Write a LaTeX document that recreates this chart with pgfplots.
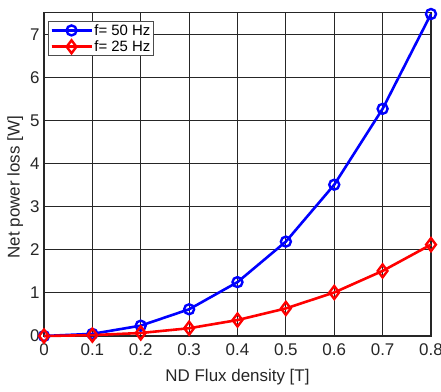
\documentclass[border=0pt]{standalone}
\usepackage{pgfplots}
\pgfplotsset{compat=1.18}
\usepackage{fontspec}
\setmainfont{Liberation Sans}

\definecolor{gridc}{RGB}{38,38,38}

\begin{document}
\begin{tikzpicture}
\path[use as bounding box] (-44bp,-56bp) rectangle (397bp,336bp);
\begin{axis}[
  at={(0,0)}, anchor=south west,
  scale only axis,
  width=387bp, height=323.3bp,
  xmin=0, xmax=0.8, ymin=0, ymax=7.5,
  xtick={0,0.1,...,0.8},
  ytick={0,1,...,7},
  xticklabels={0,0.1,0.2,0.3,0.4,0.5,0.6,0.7,0.8},
  /pgf/number format/assume math mode=true,
  tick label style={font=\fontsize{17}{20}\selectfont, text=gridc},
  xticklabel style={yshift=-4bp},
  yticklabel style={xshift=-1bp},
  label style={font=\fontsize{17}{20}\selectfont, text=gridc},
  xlabel={ND Flux density [T]},
  ylabel={Net power loss [W]},
  xlabel style={at={(axis description cs:0.5,0)}, anchor=base, yshift=-45bp},
  ylabel style={at={(axis description cs:-0.074,0.46)}, anchor=center},
  major tick length=0pt,
  grid=major,
  major grid style={gridc, line width=1.2bp},
  axis line style={gridc, line width=1.2bp},
  clip=false,
  legend style={font=\fontsize{15}{17}\selectfont, draw=gray!60!black, line width=1bp,
    at={(0.011,0.975)}, anchor=north west, inner sep=1.5bp, row sep=1bp,
    nodes={inner sep=1.5bp}},
  legend cell align=left,
  legend image code/.code={
    \draw[#1] (0bp,0bp) -- (14bp,0bp);
    \draw[#1, mark repeat=2, mark phase=2] plot coordinates {(0bp,0bp) (20bp,0bp) (40bp,0bp)};
    \draw[#1] (26bp,0bp) -- (40bp,0bp);
  },
]
\addplot[blue, line width=2.6bp, mark=o, mark size=5bp, mark options={line width=2.4bp}]
  coordinates {(0,0) (0.1,0.05) (0.2,0.24) (0.3,0.62) (0.4,1.25) (0.5,2.19) (0.6,3.51) (0.7,5.27) (0.8,7.47)};
\addlegendentry{f= 50 Hz}
\addplot[red, line width=2.6bp, mark=diamond, mark size=6.5bp, mark options={line width=2.4bp}]
  coordinates {(0,0) (0.1,0.02) (0.2,0.07) (0.3,0.18) (0.4,0.37) (0.5,0.64) (0.6,1.01) (0.7,1.51) (0.8,2.12)};
\addlegendentry{f= 25 Hz}
\end{axis}
\end{tikzpicture}
\end{document}
